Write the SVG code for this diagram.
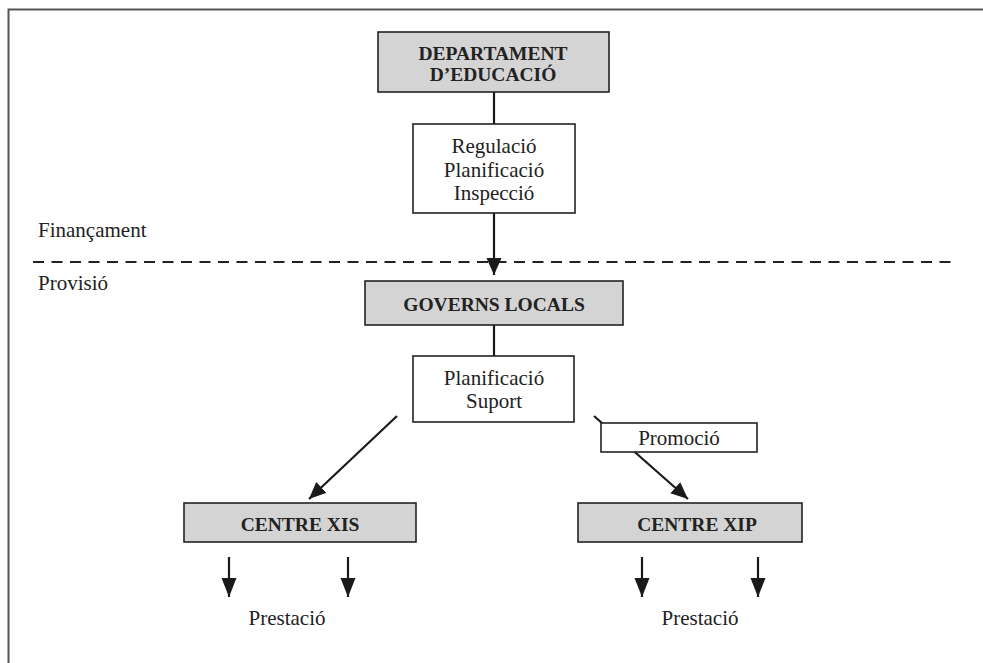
<svg xmlns="http://www.w3.org/2000/svg" width="983" height="663" viewBox="0 0 983 663">
<style>
.frame{fill:none;stroke:#555;stroke-width:2}
.box{stroke:#222;stroke-width:1.6}
.g{fill:#d4d4d4}
.w{fill:#fff}
.t{font-family:"Liberation Serif","Times New Roman",serif;font-size:21px;fill:#222;text-anchor:middle}
.b{font-weight:bold;font-size:19.5px}
.l{text-anchor:start}
.c{stroke:#1a1a1a;stroke-width:2.2;fill:none}
.dash{stroke:#222;stroke-width:2;stroke-dasharray:11 7.5;fill:none}
</style>
<defs>
<marker id="ah" markerUnits="userSpaceOnUse" markerWidth="18" markerHeight="20" refX="17" refY="7.5" orient="auto">
<path d="M0,0 L17,7.5 L0,15 Z" fill="#1a1a1a"/>
</marker>
<marker id="ah2" markerUnits="userSpaceOnUse" markerWidth="20" markerHeight="20" refX="19" refY="7.5" orient="auto">
<path d="M0,0 L19,7.5 L0,15 Z" fill="#1a1a1a"/>
</marker>
</defs>
<rect x="0" y="0" width="983" height="663" fill="#fff"/>
<path class="frame" d="M8.5,663 V9.5 H983"/>
<path class="dash" d="M33,262 H952"/>
<text class="t l" x="38" y="237">Finançament</text>
<text class="t l" x="38" y="290">Provisió</text>
<g id="connectors">
<line class="c" x1="494" y1="92" x2="494" y2="124"/>
<line class="c" x1="494" y1="213" x2="494" y2="275" marker-end="url(#ah)"/>
<line class="c" x1="494" y1="325" x2="494" y2="356"/>
<line class="c" x1="397" y1="416" x2="309" y2="499" marker-end="url(#ah)"/>
<line class="c" x1="594" y1="416" x2="688" y2="499" marker-end="url(#ah)"/>
<line class="c" x1="229" y1="557" x2="229" y2="597" marker-end="url(#ah2)"/>
<line class="c" x1="348" y1="557" x2="348" y2="597" marker-end="url(#ah2)"/>
<line class="c" x1="642" y1="557" x2="642" y2="597" marker-end="url(#ah2)"/>
<line class="c" x1="758" y1="557" x2="758" y2="597" marker-end="url(#ah2)"/>
</g>
<g id="departament">
<rect class="box g" x="378" y="32" width="231" height="60"/>
<text class="t b" x="493" y="60">DEPARTAMENT</text>
<text class="t b" x="493" y="81">D’EDUCACIÓ</text>
</g>
<g id="regulacio">
<rect class="box w" x="413" y="124" width="162" height="89"/>
<text class="t" x="494" y="153">Regulació</text>
<text class="t" x="494" y="177">Planificació</text>
<text class="t" x="494" y="200">Inspecció</text>
</g>
<g id="governs">
<rect class="box g" x="365" y="281" width="258" height="44"/>
<text class="t b" x="494" y="311">GOVERNS LOCALS</text>
</g>
<g id="planificacio">
<rect class="box w" x="413" y="356" width="161" height="66"/>
<text class="t" x="494" y="385">Planificació</text>
<text class="t" x="494" y="408">Suport</text>
</g>
<g id="promocio">
<rect class="box w" x="601" y="423" width="156" height="29"/>
<text class="t" x="679" y="445">Promoció</text>
</g>
<g id="centre-xis">
<rect class="box g" x="184" y="503" width="232" height="39"/>
<text class="t b" x="300" y="531">CENTRE XIS</text>
</g>
<g id="centre-xip">
<rect class="box g" x="578" y="503" width="224" height="39"/>
<text class="t b" x="697" y="531">CENTRE XIP</text>
</g>
<g id="prestacio-xis">
<text class="t" x="287" y="625">Prestació</text>
</g>
<g id="prestacio-xip">
<text class="t" x="700" y="625">Prestació</text>
</g>
</svg>
